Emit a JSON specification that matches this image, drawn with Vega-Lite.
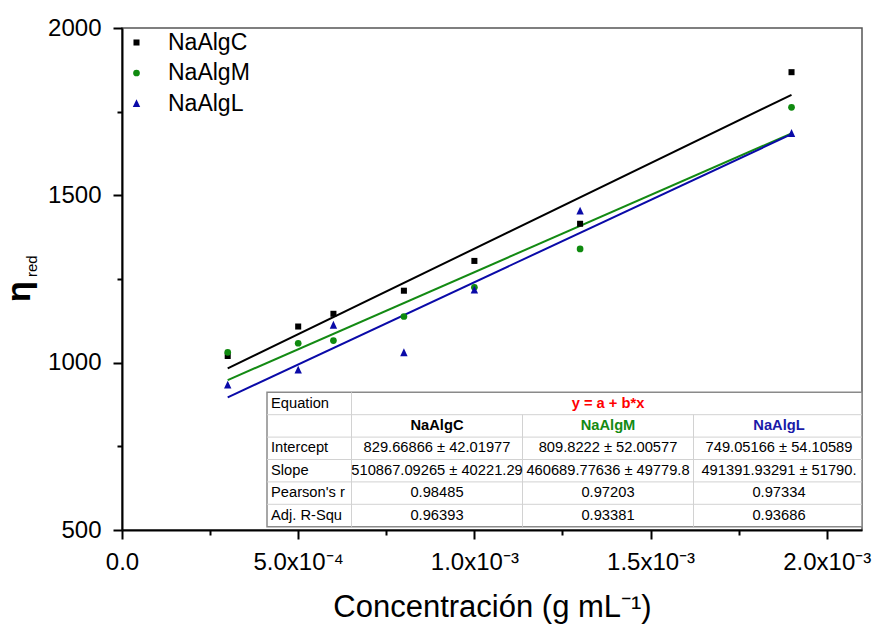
{
  "$schema": "https://vega.github.io/schema/vega-lite/v6.json",
  "width": 740,
  "height": 502,
  "autosize": {"type": "none"},
  "padding": {"left": 122, "top": 28, "right": 14, "bottom": 96},
  "background": "white",
  "config": {"view": {"stroke": "#555555", "strokeWidth": 1.5}, "font": "Liberation Sans"},
  "datasets": {
    "points": [
      {"conc": 0.0003, "eta": 1020, "sample": "NaAlgC"},
      {"conc": 0.0005, "eta": 1108, "sample": "NaAlgC"},
      {"conc": 0.0006, "eta": 1146, "sample": "NaAlgC"},
      {"conc": 0.0008, "eta": 1215, "sample": "NaAlgC"},
      {"conc": 0.001, "eta": 1304, "sample": "NaAlgC"},
      {"conc": 0.0013, "eta": 1415, "sample": "NaAlgC"},
      {"conc": 0.0019, "eta": 1868, "sample": "NaAlgC"},
      {"conc": 0.0003, "eta": 1031, "sample": "NaAlgM"},
      {"conc": 0.0005, "eta": 1058, "sample": "NaAlgM"},
      {"conc": 0.0006, "eta": 1066, "sample": "NaAlgM"},
      {"conc": 0.0008, "eta": 1138, "sample": "NaAlgM"},
      {"conc": 0.001, "eta": 1225, "sample": "NaAlgM"},
      {"conc": 0.0013, "eta": 1340, "sample": "NaAlgM"},
      {"conc": 0.0019, "eta": 1763, "sample": "NaAlgM"},
      {"conc": 0.0003, "eta": 933, "sample": "NaAlgL"},
      {"conc": 0.0005, "eta": 978, "sample": "NaAlgL"},
      {"conc": 0.0006, "eta": 1112, "sample": "NaAlgL"},
      {"conc": 0.0008, "eta": 1030, "sample": "NaAlgL"},
      {"conc": 0.001, "eta": 1217, "sample": "NaAlgL"},
      {"conc": 0.0013, "eta": 1453, "sample": "NaAlgL"},
      {"conc": 0.0019, "eta": 1685, "sample": "NaAlgL"}
    ],
    "fits": [
      {"conc": 0.0003, "eta": 982.93, "sample": "NaAlgC"},
      {"conc": 0.0019, "eta": 1800.32, "sample": "NaAlgC"},
      {"conc": 0.0003, "eta": 948.03, "sample": "NaAlgM"},
      {"conc": 0.0019, "eta": 1685.13, "sample": "NaAlgM"},
      {"conc": 0.0003, "eta": 896.47, "sample": "NaAlgL"},
      {"conc": 0.0019, "eta": 1682.70, "sample": "NaAlgL"}
    ],
    "table": [
      {"row": "eq", "col": "label", "text": "Equation"},
      {"row": "eq", "col": "NaAlgM", "text": "y = a + b*x"},
      {"row": "name", "col": "label", "text": ""},
      {"row": "name", "col": "NaAlgC", "text": "NaAlgC"},
      {"row": "name", "col": "NaAlgM", "text": "NaAlgM"},
      {"row": "name", "col": "NaAlgL", "text": "NaAlgL"},
      {"row": "Intercept", "col": "label", "text": "Intercept"},
      {"row": "Intercept", "col": "NaAlgC", "text": "829.66866 ± 42.01977"},
      {"row": "Intercept", "col": "NaAlgM", "text": "809.8222 ± 52.00577"},
      {"row": "Intercept", "col": "NaAlgL", "text": "749.05166 ± 54.10589"},
      {"row": "Slope", "col": "label", "text": "Slope"},
      {"row": "Slope", "col": "NaAlgC", "text": "510867.09265 ± 40221.29"},
      {"row": "Slope", "col": "NaAlgM", "text": "460689.77636 ± 49779.8"},
      {"row": "Slope", "col": "NaAlgL", "text": "491391.93291 ± 51790."},
      {"row": "Pearson's r", "col": "label", "text": "Pearson's r"},
      {"row": "Pearson's r", "col": "NaAlgC", "text": "0.98485"},
      {"row": "Pearson's r", "col": "NaAlgM", "text": "0.97203"},
      {"row": "Pearson's r", "col": "NaAlgL", "text": "0.97334"},
      {"row": "Adj. R-Squ", "col": "label", "text": "Adj. R-Squ"},
      {"row": "Adj. R-Squ", "col": "NaAlgC", "text": "0.96393"},
      {"row": "Adj. R-Squ", "col": "NaAlgM", "text": "0.93381"},
      {"row": "Adj. R-Squ", "col": "NaAlgL", "text": "0.93686"}
    ]
  },
  "resolve": {"scale": {"x": "independent", "y": "independent", "color": "independent", "shape": "independent"}},
  "layer": [
    {
      "layer": [
        {
          "data": {"name": "fits"},
          "mark": {"type": "line", "strokeWidth": 2},
          "encoding": {
            "x": {"field": "conc", "type": "quantitative", "scale": {"domain": [0, 0.0021], "nice": false, "zero": false},
              "title": "Concentración (g mL⁻¹)",
              "axis": {
                "values": [0, 0.00025, 0.0005, 0.00075, 0.001, 0.00125, 0.0015, 0.00175, 0.002],
                "labelExpr": "['0.0','','5.0x10⁻⁴','','1.0x10⁻³','','1.5x10⁻³','','2.0x10⁻³'][round(datum.value*4000)]",
                "tickSize": {"condition": {"test": "round(datum.value*4000) % 2 == 0", "value": 9}, "value": 5},
                "tickWidth": 2, "tickColor": "black", "domainColor": "black", "domainWidth": 2,
                "labelFontSize": 24, "labelColor": "black", "labelPadding": 11, "labelFont": "Liberation Sans",
                "labelFlush": false, "labelOverlap": false, "grid": false,
                "titleFontSize": 31, "titleFontWeight": "normal", "titleColor": "black", "titleFont": "Liberation Sans", "titlePadding": 18
              }
            },
            "y": {"field": "eta", "type": "quantitative", "scale": {"domain": [500, 2000], "nice": false, "zero": false},
              "title": null,
              "axis": {
                "values": [500, 750, 1000, 1250, 1500, 1750, 2000],
                "format": "d",
                "labelExpr": "datum.value % 500 == 0 ? datum.label : ''",
                "tickSize": {"condition": {"test": "datum.value % 500 == 0", "value": 9}, "value": 5},
                "tickWidth": 2, "tickColor": "black", "domainColor": "black", "domainWidth": 2,
                "labelFontSize": 24, "labelColor": "black", "labelPadding": 12, "labelFont": "Liberation Sans",
                "labelFlush": false, "labelOverlap": false, "grid": false
              }
            },
            "stroke": {"field": "sample", "type": "nominal", "scale": {"domain": ["NaAlgC", "NaAlgM", "NaAlgL"], "range": ["#000000", "#138a13", "#0a0aa8"]}, "legend": null}
          }
        },
        {
          "data": {"name": "points"},
          "mark": {"type": "point", "filled": true, "size": 45, "opacity": 1, "strokeWidth": 0},
          "encoding": {
            "x": {"field": "conc", "type": "quantitative"},
            "y": {"field": "eta", "type": "quantitative"},
            "color": {"field": "sample", "type": "nominal",
              "scale": {"domain": ["NaAlgC", "NaAlgM", "NaAlgL"], "range": ["#000000", "#0f8a0f", "#0a0aa8"]},
              "legend": {"orient": "top-left", "offset": 0, "padding": 3, "title": null, "symbolOffset": 0,
                "labelFontSize": 23, "labelFont": "Liberation Sans", "labelColor": "black", "symbolSize": 45,
                "labelOffset": 20, "rowPadding": 6.5, "symbolStrokeWidth": 0}
            },
            "shape": {"field": "sample", "type": "nominal",
              "scale": {"domain": ["NaAlgC", "NaAlgM", "NaAlgL"], "range": ["M-0.9,-0.9L0.9,-0.9L0.9,0.9L-0.9,0.9Z", "circle", "M0,-1.3L1.1,1.05L-1.1,1.05Z"]},
              "legend": {"orient": "top-left", "offset": 0, "padding": 3, "title": null, "symbolOffset": 0,
                "labelFontSize": 23, "labelFont": "Liberation Sans", "labelColor": "black", "symbolSize": 45,
                "labelOffset": 20, "rowPadding": 6.5, "symbolStrokeWidth": 0}
            }
          }
        },
        {
          "data": {"values": [{}]},
          "mark": {"type": "text", "text": "η", "angle": 270, "align": "left", "baseline": "alphabetic", "fontSize": 34, "fontWeight": "bold", "font": "Liberation Sans", "color": "black"},
          "encoding": {
            "x": {"datum": -0.0002622, "type": "quantitative"},
            "y": {"datum": 1181, "type": "quantitative"}
          }
        },
        {
          "data": {"values": [{}]},
          "mark": {"type": "text", "text": "red", "angle": 270, "align": "left", "baseline": "alphabetic", "fontSize": 15, "font": "Liberation Sans", "color": "black"},
          "encoding": {
            "x": {"datum": -0.000242, "type": "quantitative"},
            "y": {"datum": 1256, "type": "quantitative"}
          }
        }
      ]
    },
    {
      "layer": [
        {
          "data": {"values": [{}]},
          "mark": {"type": "rect", "fill": "white", "stroke": "#8a8a8a", "strokeWidth": 1.5, "xOffset": 1, "x2Offset": 83, "yOffset": -11.2, "y2Offset": 11.2},
          "encoding": {
            "x": {"datum": "label", "type": "nominal", "scale": {"type": "point", "domain": ["label", "NaAlgC", "NaAlgM", "NaAlgL"], "range": [144, 657], "padding": 0}, "axis": null},
            "x2": {"datum": "NaAlgL"},
            "y": {"datum": "eq", "type": "nominal", "scale": {"type": "point", "domain": ["eq", "name", "Intercept", "Slope", "Pearson's r", "Adj. R-Squ"], "range": [375.5, 487.5], "padding": 0}, "axis": null},
            "y2": {"datum": "Adj. R-Squ"}
          }
        },
        {
          "data": {"name": "table"},
          "transform": [{"filter": "datum.col == 'label' && datum.row != 'eq'"}],
          "mark": {"type": "rule", "color": "#d2d2d2", "strokeWidth": 1, "xOffset": 1, "x2Offset": 83, "yOffset": -11.2},
          "encoding": {
            "y": {"field": "row", "type": "nominal"},
            "x": {"datum": "label", "type": "nominal"},
            "x2": {"datum": "NaAlgL"}
          }
        },
        {
          "data": {"values": [{}]},
          "mark": {"type": "rule", "color": "#d2d2d2", "strokeWidth": 1, "xOffset": -85.5, "yOffset": -11.2, "y2Offset": 11.2},
          "encoding": {
            "x": {"datum": "NaAlgC", "type": "nominal"},
            "y": {"datum": "eq", "type": "nominal"},
            "y2": {"datum": "Adj. R-Squ"}
          }
        },
        {
          "data": {"name": "table"},
          "transform": [{"filter": "datum.row == 'name' && (datum.col == 'NaAlgM' || datum.col == 'NaAlgL')"}],
          "mark": {"type": "rule", "color": "#d2d2d2", "strokeWidth": 1, "xOffset": -85.5, "yOffset": -11.2, "y2Offset": 11.2},
          "encoding": {
            "x": {"field": "col", "type": "nominal"},
            "y": {"datum": "name", "type": "nominal"},
            "y2": {"datum": "Adj. R-Squ"}
          }
        },
        {
          "data": {"name": "table"},
          "transform": [{"filter": "datum.col == 'label'"}],
          "mark": {"type": "text", "align": "left", "baseline": "middle", "dx": 5, "fontSize": 14.7, "font": "Liberation Sans", "color": "black"},
          "encoding": {
            "x": {"field": "col", "type": "nominal"},
            "y": {"field": "row", "type": "nominal"},
            "text": {"field": "text"}
          }
        },
        {
          "data": {"name": "table"},
          "transform": [{"filter": "datum.col != 'label' && datum.row != 'eq' && datum.row != 'name'"}],
          "mark": {"type": "text", "align": "center", "baseline": "middle", "fontSize": 14.7, "font": "Liberation Sans", "color": "black"},
          "encoding": {
            "x": {"field": "col", "type": "nominal"},
            "y": {"field": "row", "type": "nominal"},
            "text": {"field": "text"}
          }
        },
        {
          "data": {"name": "table"},
          "transform": [{"filter": "datum.col != 'label' && datum.row == 'name'"}],
          "mark": {"type": "text", "align": "center", "baseline": "middle", "fontSize": 14.7, "fontWeight": "bold", "font": "Liberation Sans"},
          "encoding": {
            "x": {"field": "col", "type": "nominal"},
            "y": {"field": "row", "type": "nominal"},
            "text": {"field": "text"},
            "color": {"field": "col", "type": "nominal", "scale": {"domain": ["NaAlgC", "NaAlgM", "NaAlgL"], "range": ["#000000", "#138a13", "#1a1aa8"]}, "legend": null}
          }
        },
        {
          "data": {"name": "table"},
          "transform": [{"filter": "datum.col != 'label' && datum.row == 'eq'"}],
          "mark": {"type": "text", "align": "center", "baseline": "middle", "fontSize": 14.7, "fontWeight": "bold", "font": "Liberation Sans", "color": "#ff0000"},
          "encoding": {
            "x": {"field": "col", "type": "nominal"},
            "y": {"field": "row", "type": "nominal"},
            "text": {"field": "text"}
          }
        }
      ]
    }
  ]
}
